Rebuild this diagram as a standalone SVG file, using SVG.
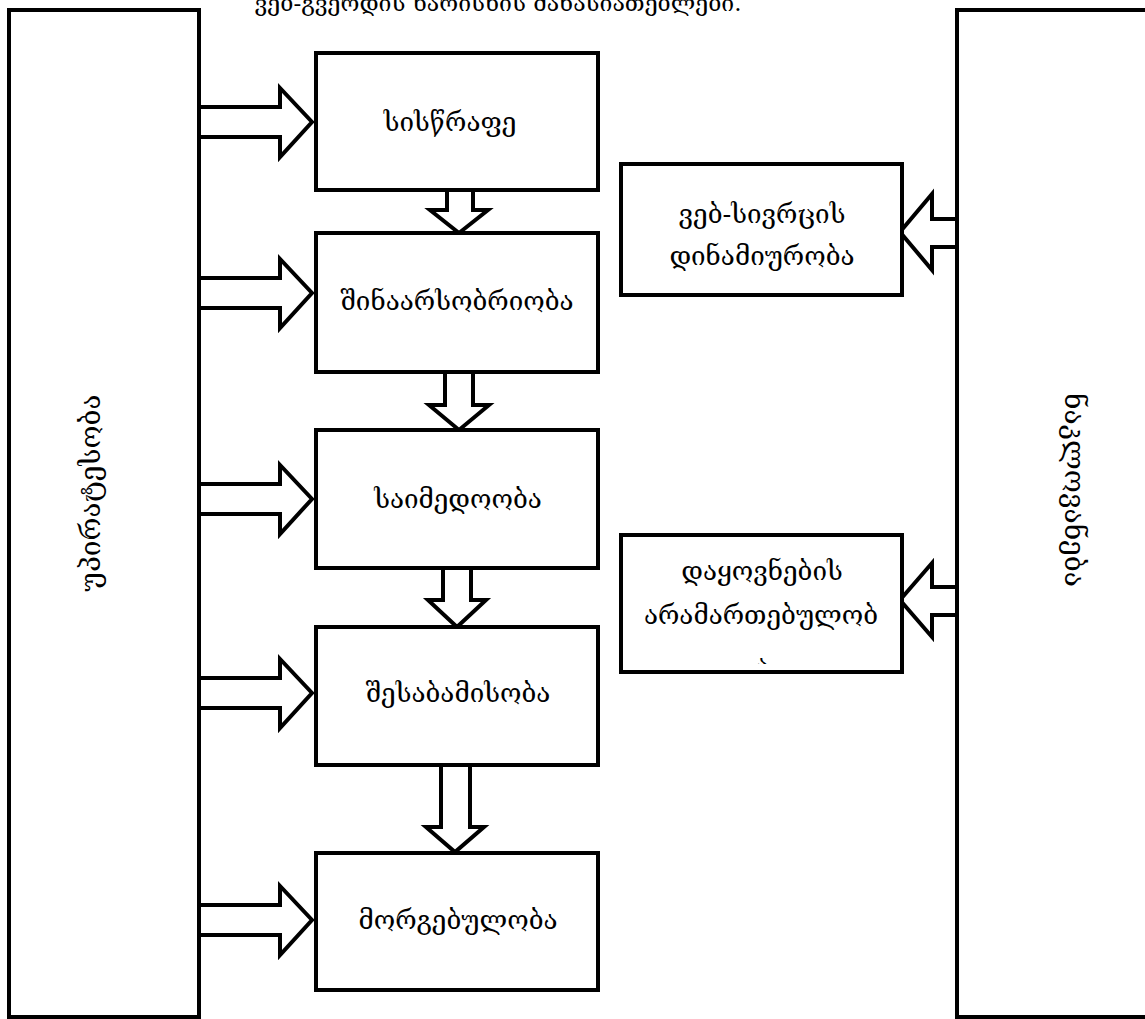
<svg xmlns="http://www.w3.org/2000/svg" width="1145" height="1019" viewBox="0 0 1145 1019">
<style>
.frame{fill:#fff;stroke:#000;stroke-width:4}
.box{fill:#fff;stroke:#000;stroke-width:4}
.arr{fill:#fff;stroke:#000;stroke-width:4;stroke-linejoin:miter}
.t{font-family:"DejaVu Serif","DejaVu Sans",serif;font-size:26px;fill:#000;text-anchor:middle}
.vt{font-family:"DejaVu Serif","DejaVu Sans",serif;font-size:28px;fill:#000;text-anchor:middle}
.cap{font-family:"DejaVu Serif","DejaVu Sans",serif;font-size:23px;fill:#000;text-anchor:middle}
</style>
<defs>
<clipPath id="clipB"><rect x="621" y="535" width="281" height="129"/></clipPath>
</defs>
<rect width="1145" height="1019" fill="#fff"/>
<text class="cap" x="498" y="11">ვებ-გვერდის ხარისხის მახასიათებლები.</text>

<g id="left-panel">
<rect class="frame" x="9" y="10" width="190" height="1007"/>
<text class="vt" transform="translate(100,493) rotate(-90)">უპირატესობა</text>
</g>
<g id="right-panel">
<rect class="frame" x="957" y="10" width="190" height="1007"/>
<text class="vt" transform="translate(1065,490) rotate(90)">ნაკლოვანება</text>
</g>

<g id="connectors">
<polygon class="arr" points="199,107 280,107 280,88 312,122 280,157 280,137 199,137"/>
<polygon class="arr" points="199,278 280,278 280,259 312,293 280,328 280,308 199,308"/>
<polygon class="arr" points="199,484 280,484 280,465 312,499 280,534 280,514 199,514"/>
<polygon class="arr" points="199,678 280,678 280,659 312,693 280,728 280,708 199,708"/>
<polygon class="arr" points="199,905 280,905 280,886 312,920 280,955 280,935 199,935"/>

<polygon class="arr" points="447,190 447,210 430,210 459,233 488,210 473,210 473,190"/>
<polygon class="arr" points="445,372 445,405 429,405 459,430 489,405 473,405 473,372"/>
<polygon class="arr" points="443,568 443,600 428,600 457,627 486,600 471,600 471,568"/>
<polygon class="arr" points="441,765 441,827 426,827 455,852 484,827 470,827 470,765"/>

<polygon class="arr" points="957,219 932,219 932,194 900,232 932,270 932,247 957,247"/>
<polygon class="arr" points="957,587 932,587 932,563 900,600 932,637 932,615 957,615"/>
</g>

<g id="n1"><rect class="box" x="316" y="53" width="282" height="137"/><text class="t" x="450" y="131">სისწრაფე</text></g>
<g id="n2"><rect class="box" x="316" y="233" width="282" height="139"/><text class="t" x="457" y="310">შინაარსობრიობა</text></g>
<g id="n3"><rect class="box" x="316" y="430" width="282" height="138"/><text class="t" x="458" y="508">საიმედოობა</text></g>
<g id="n4"><rect class="box" x="316" y="627" width="282" height="138"/><text class="t" x="458" y="702">შესაბამისობა</text></g>
<g id="n5"><rect class="box" x="316" y="853" width="282" height="137"/><text class="t" x="458" y="929">მორგებულობა</text></g>

<g id="nA"><rect class="box" x="621" y="164" width="281" height="131"/>
<text class="t" x="762" y="223">ვებ-სივრცის</text>
<text class="t" x="762" y="265">დინამიურობა</text></g>
<g id="nB"><rect class="box" x="621" y="535" width="281" height="137"/>
<text class="t" x="762" y="580">დაყოვნების</text>
<text class="t" x="761" y="624">არამართებულობ</text>
<text class="t" x="762" y="673" clip-path="url(#clipB)">ა</text></g>
</svg>
